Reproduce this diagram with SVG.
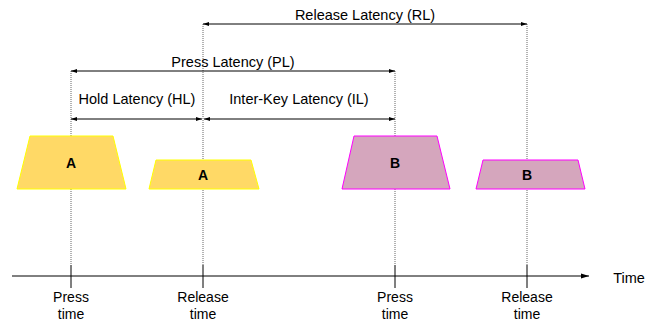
<svg xmlns="http://www.w3.org/2000/svg" width="647" height="323" viewBox="0 0 647 323">
  <style>
    text { font-family: "Liberation Sans", Arial, sans-serif; fill: #000; }
    .lbl { font-size: 14.5px; text-anchor: middle; }
    .mark { font-size: 14px; text-anchor: middle; }
    .key { font-size: 14px; font-weight: bold; text-anchor: middle; }
    .guide { stroke: #666; stroke-width: 1; stroke-dasharray: 1 1; fill: none; }
    .span { stroke: #000; stroke-width: 1; fill: none; marker-start: url(#head); marker-end: url(#head); }
    .axis { stroke: #000; stroke-width: 1; fill: none; }
    .keyA { fill: #FFD966; stroke: #FFFF00; stroke-width: 1; }
    .keyB { fill: #D5A6BD; stroke: #FF00FF; stroke-width: 1; }
  </style>
  <defs>
    <marker id="head" viewBox="0 0 10 10" refX="10" refY="5" markerWidth="6" markerHeight="6" markerUnits="userSpaceOnUse" orient="auto-start-reverse">
      <path d="M0,1.5 L10,5 L0,8.5 Z" fill="#000"/>
    </marker>
    <marker id="axisHead" viewBox="0 0 10 10" refX="10" refY="5" markerWidth="8" markerHeight="8" markerUnits="userSpaceOnUse" orient="auto">
      <path d="M0,2 L10,5 L0,8 Z" fill="#000"/>
    </marker>
  </defs>

  <!-- connectors: guides, latency spans and time axis -->
  <g id="connectors">
    <line class="guide" x1="71" y1="71" x2="71" y2="265"/>
    <line class="guide" x1="203" y1="24" x2="203" y2="265"/>
    <line class="guide" x1="395" y1="71" x2="395" y2="265"/>
    <line class="guide" x1="527" y1="24" x2="527" y2="265"/>

    <line class="span" x1="203" y1="24" x2="527" y2="24"/>
    <line class="span" x1="71" y1="71" x2="395" y2="71"/>
    <line class="span" x1="71" y1="119" x2="202" y2="119"/>
    <line class="span" x1="204" y1="119" x2="395" y2="119"/>

    <line class="axis" x1="12" y1="276" x2="589" y2="276" marker-end="url(#axisHead)"/>
    <line class="axis" x1="71" y1="265" x2="71" y2="288"/>
    <line class="axis" x1="203" y1="265" x2="203" y2="288"/>
    <line class="axis" x1="395" y1="265" x2="395" y2="288"/>
    <line class="axis" x1="527" y1="265" x2="527" y2="288"/>
  </g>

  <!-- span labels -->
  <g id="labels">
    <text class="lbl" x="365" y="20">Release Latency (RL)</text>
    <text class="lbl" x="233" y="67">Press Latency (PL)</text>
    <text class="lbl" x="137" y="104">Hold Latency (HL)</text>
    <text class="lbl" x="299" y="104">Inter-Key Latency (IL)</text>
    <text class="lbl" x="629" y="283">Time</text>
  </g>

  <!-- key states -->
  <g id="keyA-press">
    <polygon class="keyA" points="30,136 113,136 126,189 17,189"/>
    <text class="key" x="71" y="168">A</text>
  </g>
  <g id="keyA-release">
    <polygon class="keyA" points="156,160 251,160 259,189 149,189"/>
    <text class="key" x="203" y="180">A</text>
  </g>
  <g id="keyB-press">
    <polygon class="keyB" points="354,136 437,136 450,189 342,189"/>
    <text class="key" x="395" y="168">B</text>
  </g>
  <g id="keyB-release">
    <polygon class="keyB" points="483,160 578,160 585,189 476,189"/>
    <text class="key" x="527" y="180">B</text>
  </g>

  <!-- time marks -->
  <g id="mark-press-A">
    <text class="mark" x="71" y="302">Press</text>
    <text class="mark" x="71" y="319">time</text>
  </g>
  <g id="mark-release-A">
    <text class="mark" x="203" y="302">Release</text>
    <text class="mark" x="203" y="319">time</text>
  </g>
  <g id="mark-press-B">
    <text class="mark" x="395" y="302">Press</text>
    <text class="mark" x="395" y="319">time</text>
  </g>
  <g id="mark-release-B">
    <text class="mark" x="527" y="302">Release</text>
    <text class="mark" x="527" y="319">time</text>
  </g>
</svg>
